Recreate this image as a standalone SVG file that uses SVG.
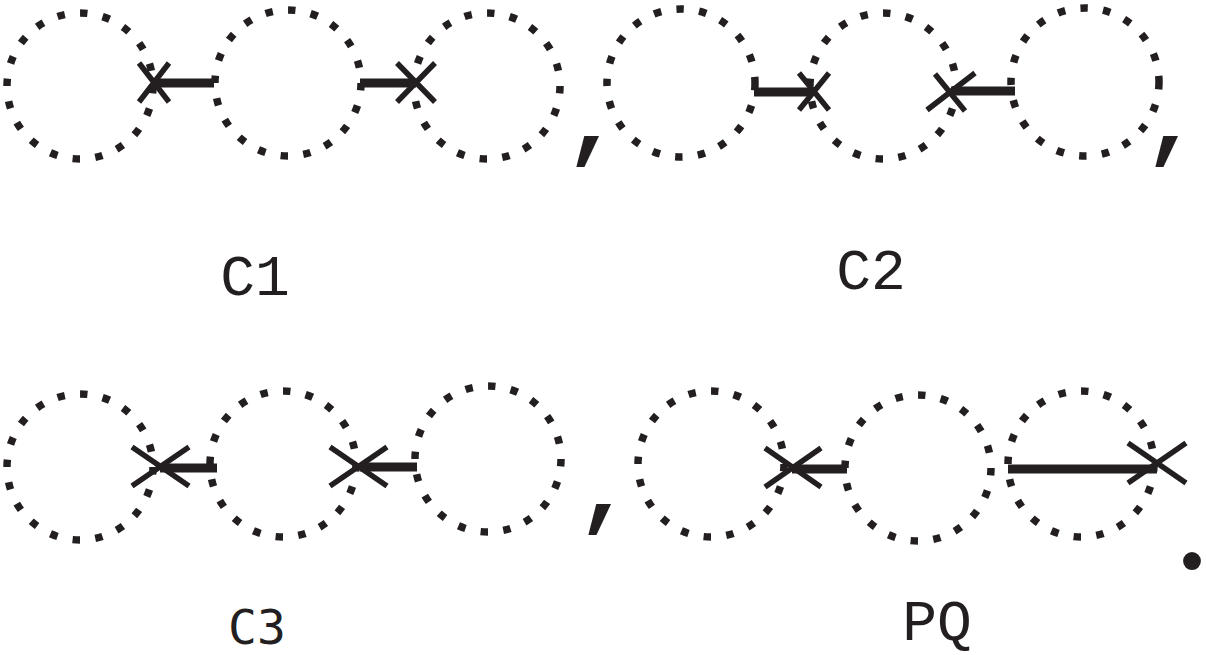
<svg xmlns="http://www.w3.org/2000/svg" width="1206" height="655" viewBox="0 0 1206 655">
<style>
.ring{fill:none;stroke:#231f20;stroke-width:7.5;stroke-dasharray:7.5 15.4}
.bar{stroke:#231f20;stroke-width:9;fill:none}
.x{stroke:#231f20;stroke-width:5.5;fill:none}
.lbl{font-family:"Liberation Mono","Courier New",monospace;font-size:58px;fill:#231f20;text-anchor:middle}
.lbl2{font-family:"DejaVu Sans Mono","Liberation Mono",monospace;font-size:48px;fill:#231f20;text-anchor:middle}
.p{font-family:"Liberation Mono","Courier New",monospace;font-weight:bold;font-size:96px;fill:#231f20;text-anchor:middle}
.dot{font-family:"Liberation Serif","Times New Roman",serif;font-weight:bold;font-size:110px;fill:#231f20;text-anchor:middle}
</style>
<rect width="1206" height="655" fill="#fff"/>
<g id="c1-a"><circle class="ring" cx="80" cy="86" r="73"/></g>
<g id="c1-b"><circle class="ring" cx="288" cy="83" r="73"/></g>
<g id="c1-c"><circle class="ring" cx="487" cy="86" r="73"/></g>
<g id="c2-a"><circle class="ring" cx="681" cy="83" r="74"/></g>
<g id="c2-b"><circle class="ring" cx="883" cy="86" r="73"/></g>
<g id="c2-c"><circle class="ring" cx="1085" cy="82" r="74"/></g>
<g id="c3-a"><circle class="ring" cx="80" cy="467" r="73"/></g>
<g id="c3-b"><circle class="ring" cx="283" cy="464" r="73"/></g>
<g id="c3-c"><circle class="ring" cx="488" cy="459" r="73"/></g>
<g id="pq-a"><circle class="ring" cx="711" cy="464" r="73"/></g>
<g id="pq-b"><circle class="ring" cx="918" cy="468" r="73"/></g>
<g id="pq-c"><circle class="ring" cx="1081" cy="464" r="73"/></g>
<g id="connectors">
<line class="bar" x1="153" y1="83" x2="214" y2="83"/>
<path class="x" d="M139 63 L169 102 M169 63 L139 102"/>
<line class="bar" x1="360" y1="83" x2="416" y2="83"/>
<path class="x" d="M397 63 L435 102 M435 63 L397 102"/>
<line class="bar" x1="754" y1="92" x2="813" y2="92"/>
<path class="x" d="M799 73 L829 110 M829 73 L799 110"/>
<line class="bar" x1="951" y1="91" x2="1015" y2="91"/>
<path class="x" d="M927 110 L975 73 M935 74 L965 111"/>
<line class="bar" x1="160" y1="468" x2="217" y2="468"/>
<path class="x" d="M132 447 L189 486 M189 447 L132 486"/>
<line class="bar" x1="360" y1="467" x2="417" y2="467"/>
<path class="x" d="M330 447 L387 486 M387 447 L330 486"/>
<line class="bar" x1="792" y1="469" x2="847" y2="469"/>
<path class="x" d="M765 448 L821 487 M821 448 L765 487"/>
<line class="bar" x1="1008" y1="469" x2="1157" y2="469"/>
<path class="x" d="M1128 443 L1186 483 M1186 443 L1128 483"/>
</g>
<g id="punctuation">
<text class="p" x="593" y="150">,</text>
<text class="p" x="1172" y="150">,</text>
<text class="p" x="605" y="518">,</text>
<text class="dot" x="1192" y="568">.</text>
</g>
<g id="labels">
<text class="lbl" x="255" y="295">C1</text>
<text class="lbl" x="871" y="289">C2</text>
<text class="lbl2" x="257" y="644">C3</text>
<text class="lbl" x="937" y="640">PQ</text>
</g>
</svg>
